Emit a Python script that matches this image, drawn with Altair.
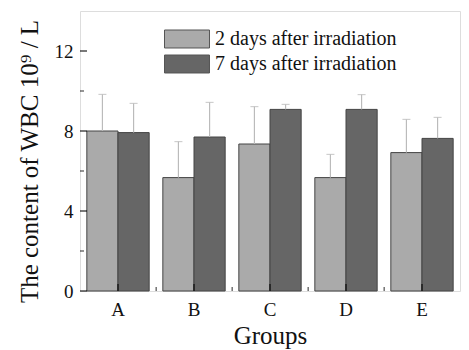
import altair as alt
import pandas as pd

groups = ["A", "B", "C", "D", "E"]
series = ["2 days after irradiation", "7 days after irradiation"]
day2 = [8.0, 5.67, 7.35, 5.67, 6.92]
day7 = [7.92, 7.7, 9.08, 9.08, 7.63]
err2 = [1.83, 1.8, 1.87, 1.16, 1.66]
err7 = [1.46, 1.73, 0.25, 0.74, 1.05]
y_major = [0, 4, 8, 12]
y_minor = [2, 6, 10]

rows = []
for i, g in enumerate(groups):
    rows.append({"group": g, "series": series[0], "value": day2[i], "hi": day2[i] + err2[i]})
    rows.append({"group": g, "series": series[1], "value": day7[i], "hi": day7[i] + err7[i]})
df = pd.DataFrame(rows)

FONT = "Liberation Serif"
H = 280

xscale = alt.Scale(domain=groups, paddingInner=0.18, paddingOuter=0.09)
x = alt.X("group:N", title="Groups", sort=groups, scale=xscale,
          axis=alt.Axis(labelAngle=0, labelFontSize=19, titleFontSize=25, labelFont=FONT,
                        titleFont=FONT, titleFontWeight="normal", labelColor="#111", titleColor="#111",
                        ticks=False, labelPadding=9, titlePadding=4, domain=False))
xo = alt.XOffset("series:N", sort=series, scale=alt.Scale(paddingInner=0))
yscale = alt.Scale(domain=[0, 14], nice=False)

bars = alt.Chart(df).mark_bar(stroke="#444444", strokeWidth=1).encode(
    x=x, xOffset=xo,
    y=alt.Y("value:Q", title="The content of  WBC 10⁹ / L", scale=yscale,
            axis=alt.Axis(values=y_major, grid=False, labelFontSize=19, titleFontSize=25,
                          labelFont=FONT, titleFont=FONT, titleFontWeight="normal",
                          labelColor="#111", titleColor="#111", titleY=150, titleAnchor="middle",
                          ticks=False, labelPadding=7, titlePadding=12, domain=False)),
    color=alt.Color("series:N", sort=series,
                    scale=alt.Scale(domain=series, range=["#aaaaaa", "#666666"]),
                    legend=alt.Legend(title=None, orient="none", legendX=95, legendY=16,
                                      symbolType="M-2,-0.8H2V0.8H-2Z", symbolSize=506,
                                      symbolStrokeColor="#555", symbolStrokeWidth=1,
                                      labelFont=FONT, labelFontSize=20, labelColor="#111",
                                      labelLimit=0, labelOffset=16, rowPadding=2, padding=0)),
)

rules = alt.Chart(df).mark_rule(color="#bbbbbb", strokeWidth=1.2).encode(
    x=x, xOffset=xo, y="value:Q", y2="hi:Q")
caps = alt.Chart(df).mark_tick(color="#bbbbbb", thickness=1.2, size=8, orient="horizontal").encode(
    x=x, xOffset=xo, y="hi:Q")

ymaj = alt.Chart(pd.DataFrame({"v": y_major})).mark_tick(
    color="black", thickness=1.5, size=7, orient="horizontal").encode(
    y=alt.Y("v:Q", scale=yscale), x=alt.value(3.5))
ymin = alt.Chart(pd.DataFrame({"v": y_minor})).mark_tick(
    color="black", thickness=1.2, size=4, orient="horizontal").encode(
    y=alt.Y("v:Q", scale=yscale), x=alt.value(2))
xmaj = alt.Chart(pd.DataFrame({"g": groups})).mark_tick(
    color="black", thickness=1.5, size=7, orient="vertical").encode(
    x=alt.X("g:N", scale=xscale, sort=groups), y=alt.value(H - 3.5))
xmin = alt.Chart(pd.DataFrame({"g": groups[:-1]})).mark_tick(
    color="black", thickness=1.2, size=4, orient="vertical", xOffset=7).encode(
    x=alt.X("g:N", scale=xscale, sort=groups, bandPosition=1), y=alt.value(H - 2))

chart = alt.layer(bars, rules, caps, ymaj, ymin, xmaj, xmin).properties(
    width=380, height=H,
    autosize=alt.AutoSizeParams(type="none"),
    padding={"left": 72, "top": 3, "right": 1, "bottom": 59},
).configure_view(stroke="black", strokeWidth=1.5).configure(background="white", font=FONT)

chart.save("out.html", embed_options={"renderer": "svg", "actions": False})
